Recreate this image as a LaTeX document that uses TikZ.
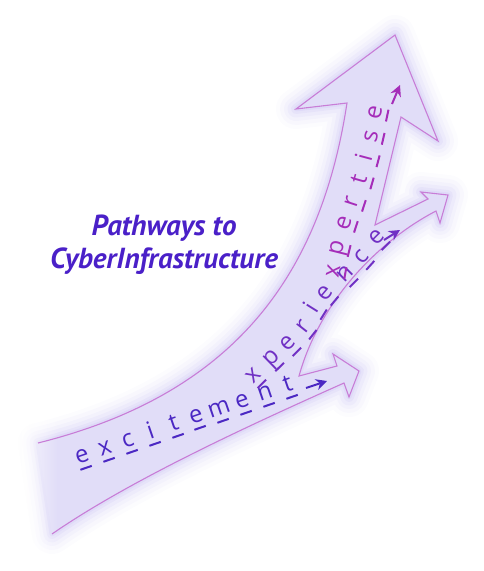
\documentclass[tikz,border=0pt]{standalone}
\usepackage{fontspec}
\setmainfont{PT Sans}
\newfontfamily\letterfont{Open Sans}
\usetikzlibrary{arrows.meta,fadings}

\definecolor{bodycol}{RGB}{225,221,248}
\definecolor{glowcol}{RGB}{203,196,243}
\definecolor{edgecol}{RGB}{200,125,215}
\definecolor{titlecol}{RGB}{74,32,200}
\definecolor{exccol}{RGB}{75,40,195}
\definecolor{expcol}{RGB}{112,48,196}
\definecolor{xptcol}{RGB}{165,45,185}

\tikzset{
  glyph/.style={font=\letterfont\fontsize{24}{24}\selectfont, inner sep=0pt, anchor=base, transform shape},
  uline/.style={line width=2pt},
  tipline/.style={line width=2pt, -{Stealth[length=11pt, width=11pt]}},
  rim/.style={draw=edgecol, line width=1.1pt, line join=miter},
  title/.style={font=\fontsize{29}{32}\selectfont\bfseries\itshape, text=titlecol, anchor=base, inner sep=0pt},
}

% one letter of a word, with its dash below it
\newcommand\putletter[5]{% centre x, centre y, angle, letter, colour
  \begin{scope}[shift={(#1,#2)}, rotate=#3]
    \node[glyph, text=#5] at (0pt,-6.5pt) {#4};
    \draw[uline, #5] (-6pt,-12.5pt) -- (6pt,-12.5pt);
  \end{scope}}

% outline of the branching arrow (open at the left end)
\def\rimpath{(38,443) .. controls (230,395) and (320,280) .. (347,103)
  -- (296,109) -- (395,35) -- (438,141) -- (401,117) -- (375,225)
  -- (428,199) -- (421,192) -- (448,195) -- (440,223) -- (436,211)
  .. controls (380,240) and (320,300) .. (299,376)
  -- (337,366) -- (333,354) -- (359,371) -- (349,397) -- (344,383)
  .. controls (250,425) and (130,480) .. (52,534)}

\begin{document}
\begin{tikzpicture}[x=1pt, y=-1pt]
  \useasboundingbox (0,0) rectangle (483,571);

  % soft glow and body
  \foreach \w/\o in {40/0.06, 32/0.08, 24/0.11, 17/0.15, 10/0.2, 5/0.28}
    \draw[glowcol, line width=\w pt, opacity=\o, line join=round] \rimpath -- cycle;
  \fill[bodycol] \rimpath -- cycle;
  % the open end fades out
  \fill[white, path fading=east] (8,420) rectangle (58,560);
  \draw[rim] \rimpath;

  % title
  \node[title] (head1) at (164,235) {Pathways to};
  \node[title] (head2) at (164,268) {CyberInfrastructure};

  % excitement
  \foreach \x/\y/\l in {82/456/e, 105/448/x, 128/440/c, 151/432/i, 174/424/t,
                        196/416/e, 219/409/m, 242/401/e, 265/393/n, 288/385/t}
    \putletter{\x}{\y}{19}{\l}{exccol};
  \coordinate (excA) at (306,388);
  \coordinate (excB) at (327,381);
  \draw[tipline, exccol] (excA) -- (excB);

  % experience
  \foreach \x/\y/\a/\l in {253/375/45/x, 271/358/44/p, 288/343/45/e, 303/327/52/r,
                           313/308/58/i, 325/293/50/e, 345/274/45/n, 361/257/48/c,
                           377/237/45/e}
    \putletter{\x}{\y}{\a}{\l}{expcol};
  \coordinate (expA) at (384,240);
  \coordinate (expB) at (400,230);
  \draw[tipline, expcol] (expA) -- (expB);

  % expertise
  \foreach \x/\y/\a/\l in {333/271/80/x, 337/248/76/p, 344/223/72/e, 352/202/72/r,
                           360/180/74/t, 366/158/75/i, 371/136/77/s, 375/113/78/e}
    \putletter{\x}{\y}{\a}{\l}{xptcol};
  \coordinate (xptA) at (392,104);
  \coordinate (xptB) at (400,85);
  \draw[tipline, xptcol] (xptA) -- (xptB);
\end{tikzpicture}
\end{document}
